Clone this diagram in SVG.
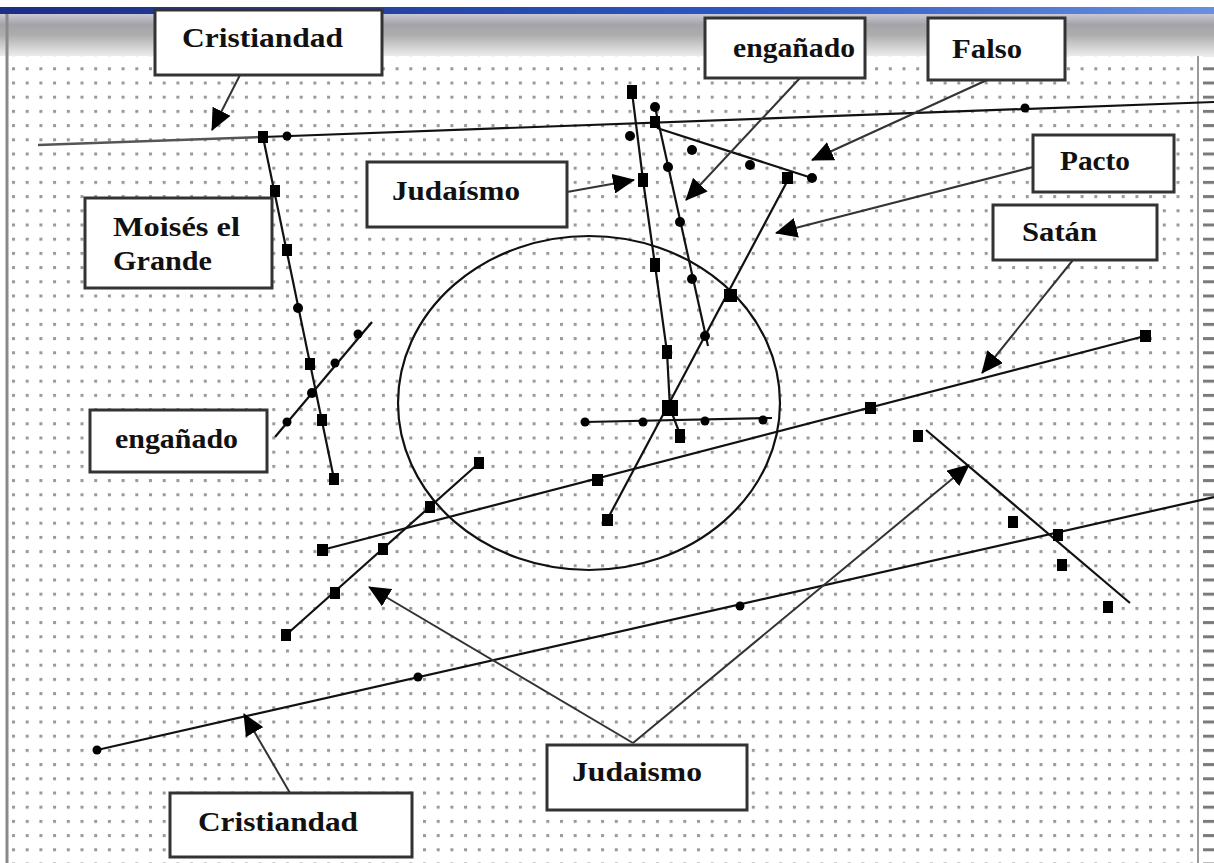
<svg xmlns="http://www.w3.org/2000/svg" width="1214" height="863" viewBox="0 0 1214 863">
<defs>
<linearGradient id="blue" x1="0" y1="0" x2="1" y2="0">
<stop offset="0" stop-color="#1d2d86"/>
<stop offset="0.6" stop-color="#2c56c0"/>
<stop offset="1" stop-color="#6a8ee0"/>
</linearGradient>
<linearGradient id="bar" x1="0" y1="0" x2="0" y2="1">
<stop offset="0" stop-color="#c8c9d4"/>
<stop offset="0.25" stop-color="#a4a3a8"/>
<stop offset="0.5" stop-color="#adadad"/>
<stop offset="0.75" stop-color="#cdcdcd"/>
<stop offset="1" stop-color="#ececec"/>
</linearGradient>
<pattern id="grid" x="12" y="10.5" width="13.7" height="14.2" patternUnits="userSpaceOnUse">
<rect x="0" y="0" width="3" height="3" fill="#999"/>
</pattern>
<pattern id="strip" x="1203" y="10.5" width="11" height="14.2" patternUnits="userSpaceOnUse">
<rect x="0" y="0" width="11" height="3" fill="#7a7a7a"/>
</pattern>
<marker id="ah" viewBox="0 0 22 20" refX="21" refY="10" markerWidth="22" markerHeight="20" markerUnits="userSpaceOnUse" orient="auto">
<path d="M0,0 L22,10 L0,20 z" fill="#000"/>
</marker>
<style>
.ln{stroke:#111;stroke-width:2.2;fill:none}
.ar{stroke:#333;stroke-width:2;fill:none;marker-end:url(#ah)}
.sq{fill:#000}
.dt{fill:#000}
.box{fill:#fff;stroke:#333;stroke-width:3}
.lb{font-family:"Liberation Serif","Times New Roman",serif;font-weight:bold;font-size:28px;fill:#111}
</style>
</defs>
<rect x="0" y="0" width="1214" height="863" fill="#fff"/>
<rect x="0" y="7" width="1214" height="7" fill="url(#blue)"/>
<rect x="0" y="14" width="1214" height="42" fill="url(#bar)"/>
<rect x="10" y="56" width="1186" height="807" fill="url(#grid)"/>
<rect x="1203" y="56" width="11" height="807" fill="url(#strip)"/>
<line x1="7" y1="14" x2="7" y2="863" stroke="#8a8a8a" stroke-width="3"/>
<line x1="1198" y1="56" x2="1198" y2="863" stroke="#9a9a9a" stroke-width="2"/>

<g id="figure">
<ellipse cx="589" cy="403" rx="191" ry="167" class="ln" stroke="#222"/>
<line x1="38" y1="145" x2="263" y2="137" stroke="#555" stroke-width="2.5"/>
<line x1="263" y1="137" x2="1214" y2="102" class="ln"/>
<line x1="263" y1="137" x2="334" y2="479" class="ln"/>
<line x1="275" y1="437" x2="372" y2="322" class="ln"/>
<polyline points="632,92 643,180 655,265 667,352 670,408 681,437" class="ln"/>
<line x1="655" y1="107" x2="708" y2="346" class="ln"/>
<line x1="657" y1="128" x2="812" y2="178" class="ln"/>
<line x1="607" y1="520" x2="790" y2="176" class="ln"/>
<line x1="585" y1="422" x2="772" y2="418" class="ln"/>
<line x1="322" y1="550" x2="1145" y2="336" class="ln"/>
<line x1="286" y1="635" x2="479" y2="463" class="ln"/>
<line x1="926" y1="430" x2="1130" y2="603" class="ln"/>
<line x1="97" y1="750" x2="1214" y2="497" class="ln"/>

<rect class="sq" x="258" y="131" width="10" height="12"/>
<circle class="dt" cx="287" cy="136" r="4.5"/>
<circle class="dt" cx="1025" cy="108" r="4.5"/>

<rect class="sq" x="270" y="185" width="10" height="12"/>
<rect class="sq" x="282" y="244" width="10" height="12"/>
<circle class="dt" cx="298" cy="308" r="5"/>
<rect class="sq" x="305" y="358" width="10" height="12"/>
<circle class="dt" cx="312" cy="393" r="5"/>
<rect class="sq" x="317" y="414" width="10" height="12"/>
<rect class="sq" x="329" y="473" width="10" height="12"/>

<circle class="dt" cx="287" cy="422" r="4.5"/>
<circle class="dt" cx="335" cy="363" r="4.5"/>
<circle class="dt" cx="358" cy="334" r="4.5"/>

<rect class="sq" x="627" y="85" width="10" height="14"/>
<circle class="dt" cx="630" cy="136" r="5"/>
<rect class="sq" x="638" y="173" width="10" height="14"/>
<rect class="sq" x="650" y="258" width="10" height="14"/>
<rect class="sq" x="662" y="345" width="10" height="14"/>
<rect class="sq" x="662" y="400" width="16" height="16"/>
<rect class="sq" x="675" y="429" width="10" height="14"/>

<circle class="dt" cx="655" cy="107" r="5"/>
<rect class="sq" x="650" y="116" width="10" height="12"/>
<circle class="dt" cx="668" cy="167" r="5"/>
<circle class="dt" cx="680" cy="222" r="5"/>
<circle class="dt" cx="692" cy="279" r="5"/>
<circle class="dt" cx="705" cy="336" r="5"/>

<circle class="dt" cx="692" cy="150" r="5"/>
<circle class="dt" cx="750" cy="165" r="5"/>
<circle class="dt" cx="812" cy="178" r="5"/>

<rect class="sq" x="602" y="514" width="11" height="12"/>
<rect class="sq" x="724" y="289" width="13" height="13"/>
<rect class="sq" x="782" y="172" width="11" height="12"/>

<circle class="dt" cx="585" cy="422" r="4.5"/>
<circle class="dt" cx="643" cy="422" r="4.5"/>
<circle class="dt" cx="705" cy="421" r="4.5"/>
<circle class="dt" cx="763" cy="420" r="4.5"/>

<rect class="sq" x="317" y="544" width="11" height="12"/>
<rect class="sq" x="592" y="474" width="11" height="12"/>
<rect class="sq" x="865" y="402" width="11" height="12"/>
<rect class="sq" x="1140" y="330" width="11" height="12"/>

<rect class="sq" x="281" y="629" width="10" height="12"/>
<rect class="sq" x="330" y="587" width="10" height="12"/>
<rect class="sq" x="378" y="543" width="10" height="12"/>
<rect class="sq" x="425" y="501" width="10" height="12"/>
<rect class="sq" x="474" y="457" width="10" height="12"/>

<rect class="sq" x="913" y="430" width="10" height="12"/>
<rect class="sq" x="1008" y="516" width="10" height="12"/>
<rect class="sq" x="1053" y="529" width="10" height="12"/>
<rect class="sq" x="1057" y="559" width="10" height="12"/>
<rect class="sq" x="1103" y="601" width="10" height="12"/>

<circle class="dt" cx="97" cy="750" r="4.5"/>
<circle class="dt" cx="418" cy="677" r="4.5"/>
<circle class="dt" cx="740" cy="606" r="4.5"/>
</g>

<g id="connectors">
<line class="ar" x1="240" y1="75" x2="212" y2="130"/>
<line class="ar" x1="800" y1="78" x2="686" y2="200"/>
<line class="ar" x1="987" y1="80" x2="812" y2="160"/>
<line class="ar" x1="567" y1="192" x2="634" y2="180"/>
<line class="ar" x1="1033" y1="167" x2="776" y2="233"/>
<line class="ar" x1="1073" y1="260" x2="982" y2="373"/>
<line class="ar" x1="633" y1="743" x2="369" y2="587"/>
<line class="ar" x1="633" y1="743" x2="969" y2="465"/>
<line class="ar" x1="290" y1="793" x2="244" y2="714"/>
</g>

<g id="n-cristiandad-top">
<rect class="box" x="155" y="10" width="227" height="65"/>
<text class="lb" x="182" y="47" textLength="161" lengthAdjust="spacingAndGlyphs">Cristiandad</text>
</g>
<g id="n-enganado-top">
<rect class="box" x="705" y="18" width="160" height="60"/>
<text class="lb" x="733" y="57" textLength="122" lengthAdjust="spacingAndGlyphs">engañado</text>
</g>
<g id="n-falso">
<rect class="box" x="928" y="18" width="137" height="62"/>
<text class="lb" x="952" y="58" textLength="70" lengthAdjust="spacingAndGlyphs">Falso</text>
</g>
<g id="n-judaismo-mid">
<rect class="box" x="367" y="162" width="200" height="65"/>
<text class="lb" x="392" y="200" textLength="128" lengthAdjust="spacingAndGlyphs">Judaísmo</text>
</g>
<g id="n-pacto">
<rect class="box" x="1033" y="135" width="141" height="57"/>
<text class="lb" x="1060" y="170" textLength="70" lengthAdjust="spacingAndGlyphs">Pacto</text>
</g>
<g id="n-satan">
<rect class="box" x="993" y="205" width="164" height="55"/>
<text class="lb" x="1022" y="241" textLength="75" lengthAdjust="spacingAndGlyphs">Satán</text>
</g>
<g id="n-moises">
<rect class="box" x="85" y="198" width="187" height="90"/>
<text class="lb" x="113" y="236" textLength="127" lengthAdjust="spacingAndGlyphs">Moisés el</text>
<text class="lb" x="113" y="270" textLength="99" lengthAdjust="spacingAndGlyphs">Grande</text>
</g>
<g id="n-enganado-left">
<rect class="box" x="90" y="410" width="177" height="62"/>
<text class="lb" x="115" y="448" textLength="123" lengthAdjust="spacingAndGlyphs">engañado</text>
</g>
<g id="n-judaismo-bottom">
<rect class="box" x="547" y="745" width="200" height="65"/>
<text class="lb" x="572" y="781" textLength="130" lengthAdjust="spacingAndGlyphs">Judaismo</text>
</g>
<g id="n-cristiandad-bottom">
<rect class="box" x="170" y="793" width="242" height="64"/>
<text class="lb" x="198" y="831" textLength="160" lengthAdjust="spacingAndGlyphs">Cristiandad</text>
</g>
</svg>
